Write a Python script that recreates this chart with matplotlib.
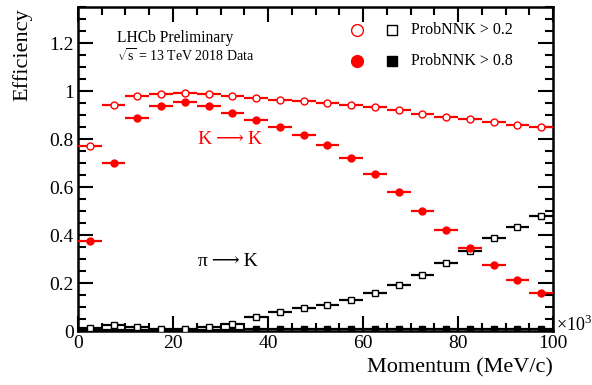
import matplotlib
matplotlib.use("Agg")
import matplotlib.pyplot as plt
import numpy as np
from matplotlib.ticker import MultipleLocator

plt.rcParams['font.family'] = ['Liberation Serif', 'DejaVu Serif']
plt.rcParams['mathtext.fontset'] = 'custom'
plt.rcParams['mathtext.rm'] = 'Liberation Serif'

# bin centres (GeV/c, axis shown in MeV/c x10^3)
momentum = [2.5, 7.5, 12.5, 17.5, 22.5, 27.5, 32.5, 37.5, 42.5, 47.5,
            52.5, 57.5, 62.5, 67.5, 72.5, 77.5, 82.5, 87.5, 92.5, 97.5]
bin_half = 2.5

k_to_k_02 = [0.772, 0.942, 0.980, 0.989, 0.992, 0.986, 0.979, 0.971, 0.964, 0.958,
             0.950, 0.942, 0.932, 0.920, 0.906, 0.892, 0.882, 0.870, 0.858, 0.850]
k_to_k_08 = [0.374, 0.701, 0.888, 0.936, 0.953, 0.938, 0.910, 0.878, 0.849, 0.815,
             0.774, 0.721, 0.653, 0.578, 0.500, 0.421, 0.346, 0.276, 0.213, 0.157]
pi_to_k_02 = [0.014, 0.024, 0.018, 0.010, 0.010, 0.017, 0.029, 0.057, 0.078, 0.097,
              0.110, 0.130, 0.157, 0.192, 0.235, 0.285, 0.333, 0.386, 0.435, 0.480]
pi_to_k_08 = [0.004, 0.006, 0.005, 0.003, 0.003, 0.004, 0.006, 0.008, 0.009, 0.009,
              0.009, 0.009, 0.009, 0.009, 0.009, 0.009, 0.010, 0.009, 0.009, 0.009]

legend_labels = ["ProbNNK > 0.2", "ProbNNK > 0.8"]

fig = plt.figure(figsize=(5.92, 3.85), dpi=100)
ax = fig.add_axes([78/592, 54/385, 475/592, 324/385])

red = '#ff0000'
ms = 5.0
lw = 1.6
xerr = [bin_half] * len(momentum)

ax.errorbar(momentum, pi_to_k_08, xerr=xerr, fmt='s', color='black', ms=ms,
            mfc='black', mec='black', elinewidth=lw, capsize=0, zorder=3)
ax.errorbar(momentum, pi_to_k_02, xerr=xerr, fmt='s', color='black', ms=ms,
            mfc='white', mec='black', mew=1.0, elinewidth=lw, capsize=0, zorder=4)
ax.errorbar(momentum, k_to_k_08, xerr=xerr, fmt='o', color=red, ms=ms,
            mfc=red, mec=red, elinewidth=lw, capsize=0, zorder=5)
ax.errorbar(momentum, k_to_k_02, xerr=xerr, fmt='o', color=red, ms=ms,
            mfc='white', mec=red, mew=1.0, elinewidth=lw, capsize=0, zorder=6)

ax.set_xlim(0, 100)
ax.set_ylim(0, 1.35)
ax.xaxis.set_major_locator(MultipleLocator(20))
ax.xaxis.set_minor_locator(MultipleLocator(5))
ax.yaxis.set_minor_locator(MultipleLocator(0.05))
ax.set_yticks([0, 0.2, 0.4, 0.6, 0.8, 1.0, 1.2])
ax.set_yticklabels(['0', '0.2', '0.4', '0.6', '0.8', '1', '1.2'])
ax.tick_params(which='both', direction='in', top=True, right=True, width=1.5,
               labelsize=14, pad=3)
ax.tick_params(which='major', length=11)
ax.tick_params(which='minor', length=6)
for s in ax.spines.values():
    s.set_linewidth(1.8)

fig.text(553/592, 8/385, "Momentum (MeV/c)", ha='right', va='bottom', fontsize=16)
fig.text(22/592, 1 - 8/385, "Efficiency", ha='center', va='top', rotation=90, fontsize=16)
fig.text(556/592, 1 - 325/385, r"$\times$10$^{3}$", ha='left', va='center', fontsize=13)

ax.text(117/592, 1 - 38/385, "LHCb Preliminary", transform=fig.transFigure,
        ha='left', va='center', fontsize=11.2)
ax.text(117/592, 1 - 56/385, r"$\sqrt{\mathrm{s}}$ = 13 TeV 2018 Data",
        transform=fig.transFigure, ha='left', va='center', fontsize=10)
ax.text(198/592, 1 - 140/385, "K\u2009\u27f6\u2009K", transform=fig.transFigure,
        ha='left', va='center', fontsize=14, color=red)
ax.text(198/592, 1 - 261/385, "\u03c0\u2009\u27f6\u2009K", transform=fig.transFigure,
        ha='left', va='center', fontsize=14, color='black')

# legend
lx_c, lx_s, lx_t = 357/592, 392/592, 411/592
rows = [1 - 30/385, 1 - 61/385]
for i, (lab, y) in enumerate(zip(legend_labels, rows)):
    cfill = 'white' if i == 0 else red
    sfill = 'white' if i == 0 else 'black'
    ax.plot([lx_c], [y], 'o', transform=fig.transFigure, ms=8.5, mfc=cfill, mec=red,
            mew=1.0, clip_on=False)
    ax.plot([lx_s], [y], 's', transform=fig.transFigure, ms=7.5, mfc=sfill, mec='black',
            mew=1.0, clip_on=False)
    ax.text(lx_t, y, lab, transform=fig.transFigure, ha='left', va='center', fontsize=11.5)

fig.savefig("out.png", dpi=100)
